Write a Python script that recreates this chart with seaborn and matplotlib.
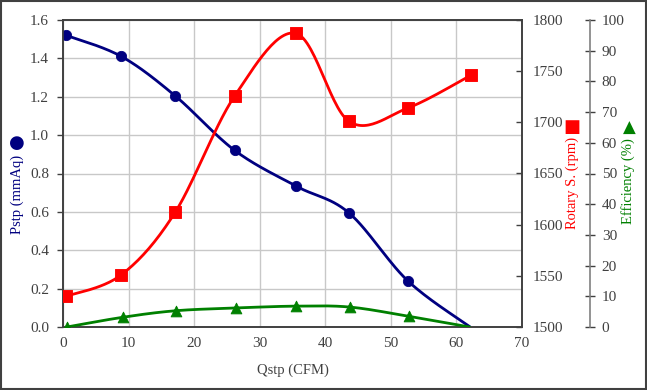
import numpy as np
import pandas as pd
import matplotlib
matplotlib.use("Agg")
import matplotlib.pyplot as plt
import seaborn as sns
from matplotlib.patches import Rectangle

# ---- data ----
qstp = [0.5, 8.9, 17.1, 26.2, 35.5, 43.6, 52.6, 62.1]
pstp = [1.52, 1.41, 1.205, 0.92, 0.735, 0.595, 0.24, 0.0]
rpm_q = [0.5, 8.9, 17.1, 26.2, 35.5, 43.6, 52.6, 62.2]
rpm = [1530, 1551, 1612, 1726, 1787, 1701, 1714, 1746]
eff_q = [0.6, 9.2, 17.2, 26.4, 35.6, 43.7, 52.7, 62.0]
eff = [0.0, 3.2, 5.3, 6.2, 6.8, 6.5, 3.5, 0.0]
xticks = [0, 10, 20, 30, 40, 50, 60, 70]
pticks = [0.0, 0.2, 0.4, 0.6, 0.8, 1.0, 1.2, 1.4, 1.6]
rticks = [1500, 1550, 1600, 1650, 1700, 1750, 1800]
eticks = [0, 10, 20, 30, 40, 50, 60, 70, 80, 90, 100]

NAVY, RED, GREEN = "#000080", "#ff0000", "#008000"
TICKC = "#404040"

sns.set_style("white")
plt.rcParams["font.family"] = ["Liberation Serif", "DejaVu Sans"]


def smooth(xs, ys, n=30):
    """Excel-like smoothed line (Catmull-Rom Bezier)."""
    P = np.column_stack([xs, ys]).astype(float)
    P = np.vstack([P[0], P, P[-1]])
    out = []
    t = np.linspace(0, 1, n)[:, None]
    for i in range(1, len(P) - 2):
        p0, p1, p2, p3 = P[i - 1], P[i], P[i + 1], P[i + 2]
        b1 = p1 + (p2 - p0) / 6
        b2 = p2 - (p3 - p1) / 6
        seg = ((1 - t) ** 3) * p1 + 3 * ((1 - t) ** 2) * t * b1 + 3 * (1 - t) * t ** 2 * b2 + t ** 3 * p2
        out.append(seg if i == 1 else seg[1:])
    c = np.vstack(out)
    return pd.DataFrame({"x": c[:, 0], "y": c[:, 1]})


fig = plt.figure(figsize=(6.47, 3.90), dpi=100)
ax = fig.add_axes([63 / 647, 1 - 327 / 390, (522 - 63) / 647, (327 - 20) / 390])
ax2 = ax.twinx()
ax3 = ax.twinx()

# Primary: Pstp
sp = smooth(qstp, pstp)
sns.lineplot(data=sp, x="x", y="y", ax=ax, color=NAVY, lw=2, sort=False, estimator=None)
sns.scatterplot(x=qstp[:-1], y=pstp[:-1], ax=ax, color=NAVY, marker="o", s=55, edgecolor=NAVY, zorder=5)

# Rotary speed
sr = smooth(rpm_q, rpm)
sns.lineplot(data=sr, x="x", y="y", ax=ax2, color=RED, lw=2, sort=False, estimator=None)
sns.scatterplot(x=rpm_q, y=rpm, ax=ax2, color=RED, marker="s", s=65, edgecolor=RED, zorder=5)

# Efficiency
se = smooth(eff_q, eff)
sns.lineplot(data=se, x="x", y="y", ax=ax3, color=GREEN, lw=2, sort=False, estimator=None)
sns.scatterplot(x=eff_q[:-1], y=eff[:-1], ax=ax3, color=GREEN, marker="^", s=60, edgecolor=GREEN, zorder=5)

ax.set_xlim(0, 70)
ax.set_ylim(0, 1.6)
ax2.set_ylim(1500, 1800)
ax3.set_ylim(0, 100)
ax.set_xticks(xticks)
ax.set_yticks(pticks)
ax.set_yticklabels([f"{v:.1f}" for v in pticks])
ax2.set_yticks(rticks)
ax3.set_yticks(eticks)

ax.grid(True, color="#c8c8c8", lw=1)
ax.set_axisbelow(True)

for a in (ax, ax2):
    for s in a.spines.values():
        s.set_color("#404040")
        s.set_linewidth(1.2)

ax.tick_params(axis="x", length=0, pad=7, labelsize=11, labelcolor=TICKC)
ax.tick_params(axis="y", direction="out", length=4, width=1, color="#404040", labelsize=11, labelcolor=TICKC, pad=6)
ax2.tick_params(axis="y", direction="in", length=4, width=1, color="#404040", labelsize=11, labelcolor=TICKC, pad=8)

ax3.spines["right"].set_position(("axes", (590 - 63) / (522 - 63)))
for k in ("left", "top", "bottom"):
    ax3.spines[k].set_visible(False)
ax3.spines["right"].set_color("#808080")
ax3.spines["right"].set_linewidth(1.2)
ax3.tick_params(axis="y", direction="inout", length=7, width=1, color="#404040", labelsize=11, labelcolor=TICKC, pad=5)

for a in (ax, ax2, ax3):
    a.set_xlabel("")
    a.set_ylabel("")

ax.set_xlabel("Qstp (CFM)", fontsize=10.5, color=TICKC, labelpad=10)

fig.text(17 / 647, 1 - 194 / 390, "Pstp (mmAq)", rotation=90, color=NAVY, fontsize=10.5,
         ha="center", va="center")
fig.text(17 / 647, 1 - 143 / 390, "●", color=NAVY, fontsize=13, ha="center", va="center",
         family="DejaVu Sans")
fig.text(572 / 647, 1 - 183 / 390, "Rotary S. (rpm)", rotation=90, color=RED, fontsize=10.5,
         ha="center", va="center")
fig.text(572 / 647, 1 - 127 / 390, "■", color=RED, fontsize=13, ha="center", va="center",
         family="DejaVu Sans")
fig.text(628 / 647, 1 - 181 / 390, "Efficiency (%)", rotation=90, color=GREEN, fontsize=10.5,
         ha="center", va="center")
fig.text(629 / 647, 1 - 128 / 390, "▲", color=GREEN, fontsize=12, ha="center", va="center",
         family="DejaVu Sans")

fig.patches.append(Rectangle((0.002, 0.003), 0.996, 0.994, transform=fig.transFigure,
                             fill=False, edgecolor="#404040", lw=1.5))

fig.savefig("out.png", dpi=100)
